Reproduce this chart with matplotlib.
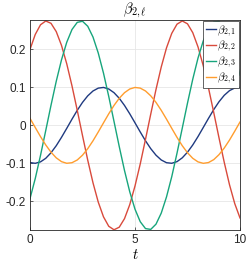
import matplotlib
matplotlib.use("Agg")
import matplotlib.pyplot as plt

plt.rcParams['font.family'] = ['Liberation Sans', 'DejaVu Sans']
plt.rcParams['mathtext.fontset'] = 'cm'

t = [i * 0.25 for i in range(41)]

beta_21 = [-0.0979, -0.0999, -0.0961, -0.0867, -0.0721, -0.0535, -0.0315, -0.0078,
           0.0164, 0.0396, 0.0605, 0.0778, 0.0906, 0.0981, 0.0999, 0.0958,
           0.0861, 0.0714, 0.0525, 0.0305, 0.0067, -0.0174, -0.0406, -0.0613,
           -0.0785, -0.0911, -0.0983, -0.0998, -0.0955, -0.0855, -0.0706, -0.0516,
           -0.0295, -0.0056, 0.0185, 0.0416, 0.0622, 0.0792, 0.0915, 0.0985, 0.0998]

beta_22 = [0.2000, 0.2394, 0.2649, 0.2749, 0.2688, 0.2469, 0.2106, 0.1621,
           0.1039, 0.0397, -0.0268, -0.0917, -0.1513, -0.2020, -0.2409, -0.2657,
           -0.2749, -0.2681, -0.2456, -0.2087, -0.1596, -0.1014, -0.0367, 0.0298,
           0.0946, 0.1538, 0.2041, 0.2423, 0.2665, 0.2750, 0.2674, 0.2442,
           0.2067, 0.1571, 0.0986, 0.0338, -0.0328, -0.0974, -0.1563, -0.2060, -0.2438]

beta_23 = [-0.1927, -0.1400, -0.0791, -0.0135, 0.0529, 0.1162, 0.1726, 0.2189,
           0.2525, 0.2713, 0.2742, 0.2610, 0.2326, 0.1906, 0.1375, 0.0762,
           0.0105, -0.0558, -0.1188, -0.1749, -0.2207, -0.2537, -0.2718, -0.2739,
           -0.2601, -0.2310, -0.1884, -0.1351, -0.0733, -0.0075, 0.0587, 0.1215,
           0.1772, 0.2225, 0.2548, 0.2722, 0.2737, 0.2591, 0.2294, 0.1862, 0.1322]

beta_24 = [0.0185, -0.0056, -0.0295, -0.0516, -0.0706, -0.0855, -0.0955, -0.0998,
           -0.0983, -0.0911, -0.0785, -0.0613, -0.0406, -0.0174, 0.0067, 0.0305,
           0.0525, 0.0714, 0.0861, 0.0958, 0.0999, 0.0981, 0.0906, 0.0778,
           0.0605, 0.0396, 0.0164, -0.0078, -0.0315, -0.0535, -0.0721, -0.0867,
           -0.0961, -0.0999, -0.0979, -0.0902, -0.0771, -0.0596, -0.0387, -0.0153, 0.0089]

series = [beta_21, beta_22, beta_23, beta_24]
labels = [r'$\beta_{2,1}$', r'$\beta_{2,2}$', r'$\beta_{2,3}$', r'$\beta_{2,4}$']
colors = ['#1f3a80', '#d94a3c', '#17a57c', '#ff9d2e']

yticks = [-0.2, -0.1, 0, 0.1, 0.2]
ytick_labels = ['-0.2', '-0.1', '0', '0.1', '0.2']
xticks = [0, 5, 10]

fig = plt.figure(figsize=(2.49, 2.65), dpi=100)
ax = fig.add_axes([30 / 249, 35 / 265, 210 / 249, 210 / 265])

for y, lab, c in zip(series, labels, colors):
    ax.plot(t, y, color=c, lw=1.0, label=lab)

ax.set_xlim(0, 10)
ax.set_ylim(-0.2755, 0.2775)
ax.set_xticks(xticks)
ax.set_xticklabels([str(v) for v in xticks])
ax.set_yticks(yticks)
ax.set_yticklabels(ytick_labels)
ax.tick_params(direction='in', length=2.5, width=0.5, labelsize=8.5, colors='#262626', pad=3)
ax.grid(True, color='#e6e6e6', lw=0.6)
ax.set_axisbelow(True)
for s in ax.spines.values():
    s.set_color('#262626')
    s.set_linewidth(0.6)

ax.set_title(r'$\beta_{2,\ell}$', fontsize=10.5, pad=2)
ax.set_xlabel(r'$t$', fontsize=10.5, labelpad=1)

leg = ax.legend(loc='upper right', fontsize=8, handlelength=0.9, handletextpad=0.15,
                borderpad=0.2, labelspacing=0.05, borderaxespad=0.1,
                fancybox=False, framealpha=1)
leg.get_frame().set_edgecolor('#262626')
leg.get_frame().set_linewidth(0.5)

fig.savefig('out.png', dpi=100)
